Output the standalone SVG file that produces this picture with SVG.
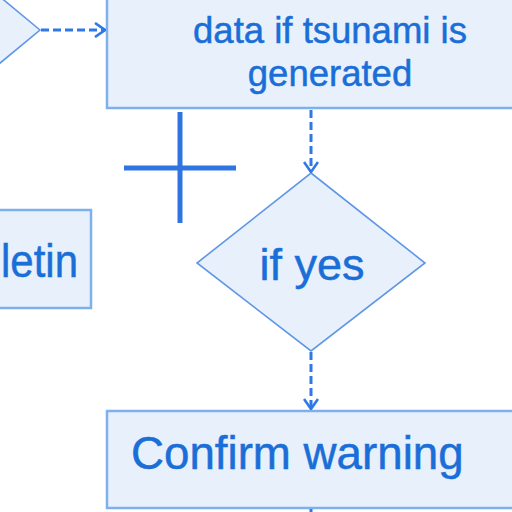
<svg xmlns="http://www.w3.org/2000/svg" width="512" height="512" viewBox="0 0 512 512">
<defs>
<style>
.box{fill:#e8f1fb;stroke:#7eb0ee;stroke-width:2.5}
.dia{fill:#e8f1fb;stroke:#5f97e6;stroke-width:1.6}
.t{fill:#1a6ed8;stroke:#1a6ed8;stroke-width:0.5;font-family:"Liberation Sans",Arial,sans-serif}
.c{stroke:#2f78e6;stroke-width:3;fill:none;stroke-dasharray:8 4}
.plus{stroke:#2f74e0;stroke-width:5;fill:none}
</style>
<marker id="ah" viewBox="0 0 12 16" refX="11" refY="8" markerWidth="12" markerHeight="16" markerUnits="userSpaceOnUse" orient="auto">
<path d="M1,1 L11,8 L1,15" fill="none" stroke="#2f78e6" stroke-width="2.6"/>
</marker>
</defs>
<rect width="512" height="512" fill="#ffffff"/>
<g id="node-decision-left">
<polygon class="dia" points="40,30 -36,-33 -112,30 -36,93"/>
</g>
<g id="node-data">
<rect class="box" x="107" y="-40" width="420" height="148"/>
<text class="t" x="330" y="43" font-size="36.5" text-anchor="middle">data if tsunami is</text>
<text class="t" x="330" y="86" font-size="36.5" text-anchor="middle">generated</text>
</g>
<g id="node-bulletin">
<rect class="box" x="-20" y="210" width="111" height="98"/>
<text class="t" x="1" y="277" font-size="46" textLength="77" lengthAdjust="spacingAndGlyphs">letin</text>
</g>
<g id="node-ifyes">
<polygon class="dia" points="311,173 425,263 311,351 197,263"/>
<text class="t" x="312" y="280" font-size="45" text-anchor="middle">if yes</text>
</g>
<g id="node-confirm">
<rect class="box" x="107" y="411" width="420" height="97"/>
<text class="t" x="131" y="469" font-size="45.7">Confirm warning</text>
</g>
<g id="plus">
<line class="plus" x1="180" y1="112" x2="180" y2="223"/>
<line class="plus" x1="124" y1="168" x2="236" y2="168"/>
</g>
<g id="connectors">
<line class="c" x1="41" y1="30" x2="105" y2="30" marker-end="url(#ah)"/>
<line class="c" x1="311" y1="110" x2="311" y2="172" marker-end="url(#ah)"/>
<line class="c" x1="311" y1="352" x2="311" y2="409" marker-end="url(#ah)"/>
<line class="c" x1="311" y1="509" x2="311" y2="520"/>
</g>
</svg>
